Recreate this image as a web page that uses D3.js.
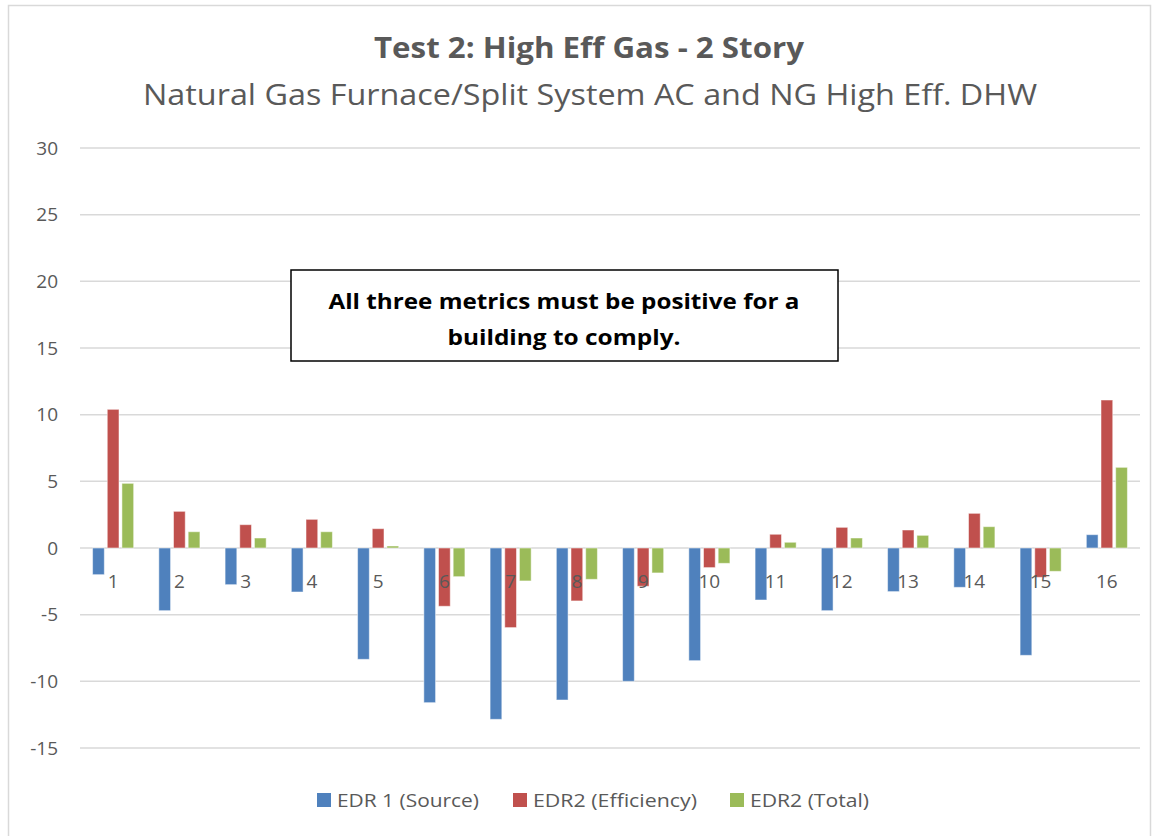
<!DOCTYPE html>
<html>
<head>
<meta charset="utf-8">
<style>
    body { margin: 0; background: #fff; }
    svg { display: block; font-family: "Open Sans", "Noto Sans", sans-serif; }
    .grid line { stroke: #d9d9d9; stroke-width: 1.5px; }
    .tick-label { fill: #595959; font-size: 19px; }
</style>
</head>
<body>
<svg width="1154" height="836"></svg>
<script src="https://d3js.org/d3.v7.min.js"></script>
<script>
    // chart values
    let categories = ["1","2","3","4","5","6","7","8","9","10","11","12","13","14","15","16"];
    let seriesNames = ["EDR 1 (Source)", "EDR2 (Efficiency)", "EDR2 (Total)"];
    let edr1Source = [-2.0, -4.7, -2.75, -3.3, -8.35, -11.6, -12.85, -11.4, -10.0, -8.45, -3.9, -4.7, -3.27, -2.95, -8.05, 1.0];
    let edr2Efficiency = [10.4, 2.75, 1.75, 2.15, 1.45, -4.37, -5.97, -3.97, -2.87, -1.47, 1.03, 1.55, 1.35, 2.6, -2.2, 11.1];
    let edr2Total = [4.85, 1.22, 0.75, 1.22, 0.15, -2.15, -2.47, -2.35, -1.87, -1.15, 0.43, 0.75, 0.95, 1.6, -1.75, 6.05];
    let yTicks = [-15, -10, -5, 0, 5, 10, 15, 20, 25, 30];
    let colors = ["#4f81bd", "#c0504d", "#9bbb59"];

    let seriesValues = [edr1Source, edr2Efficiency, edr2Total];
    let data = categories.map((c, i) => ({
        cat: c,
        vals: seriesNames.map((s, k) => ({ key: s, value: seriesValues[k][i] }))
    }));

    let svg = d3.select("svg");
    let margin = { top: 148, right: 14, bottom: 88, left: 80 };
    let width = 1154, height = 836;

    // outer chart border
    svg.append("rect")
        .attr("x", 8.5).attr("y", 5.5)
        .attr("width", width - 12).attr("height", height)
        .attr("fill", "none")
        .attr("stroke", "#d9d9d9")
        .attr("stroke-width", 1.5);

    let y = d3.scaleLinear()
        .domain([-15, 30])
        .range([height - margin.bottom, margin.top]);

    let x = d3.scaleBand()
        .domain(categories)
        .range([margin.left, width - margin.right])
        .paddingInner(0.38)
        .paddingOuter(0.19);

    let xs = d3.scaleBand()
        .domain(seriesNames)
        .range([0, x.bandwidth()])
        .paddingInner(0.2);

    // gridlines
    svg.append("g")
        .attr("class", "grid")
        .selectAll("line")
        .data(yTicks)
        .join("line")
        .attr("x1", margin.left)
        .attr("x2", width - margin.right)
        .attr("y1", d => y(d))
        .attr("y2", d => y(d));

    // y labels
    svg.append("g")
        .selectAll("text")
        .data(yTicks)
        .join("text")
        .attr("class", "tick-label")
        .attr("x", 58)
        .attr("y", d => y(d))
        .attr("dy", "0.35em")
        .attr("text-anchor", "end")
        .text(d => d);

    // bars
    svg.append("g")
        .selectAll("g")
        .data(data)
        .join("g")
        .attr("transform", d => `translate(${x(d.cat)},0)`)
        .selectAll("rect")
        .data(d => d.vals)
        .join("rect")
        .attr("x", d => xs(d.key))
        .attr("width", xs.bandwidth())
        .attr("y", d => y(Math.max(0, d.value)))
        .attr("height", d => Math.abs(y(d.value) - y(0)))
        .attr("fill", (d, i) => colors[i])
        .attr("stroke", "#fff")
        .attr("stroke-opacity", 0.5)
        .attr("stroke-width", 1);

    // category labels sit just under the zero line
    svg.append("g")
        .selectAll("text")
        .data(categories)
        .join("text")
        .attr("class", "tick-label")
        .attr("x", d => x(d) + x.bandwidth() / 2)
        .attr("y", y(0) + 40)
        .attr("text-anchor", "middle")
        .text(d => d);

    // fit text to a width measured on the picture
    function fit(sel, w) {
        sel.attr("textLength", w).attr("lengthAdjust", "spacingAndGlyphs");
    }

    // titles
    svg.append("text")
        .attr("x", 589).attr("y", 58)
        .attr("text-anchor", "middle")
        .style("font-size", "28px")
        .style("font-weight", "bold")
        .style("fill", "#595959")
        .text("Test 2: High Eff Gas - 2 Story")
        .call(fit, 430);

    svg.append("text")
        .attr("x", 590).attr("y", 105)
        .attr("text-anchor", "middle")
        .style("font-size", "29px")
        .style("fill", "#595959")
        .text("Natural Gas Furnace/Split System AC and NG High Eff. DHW")
        .call(fit, 894);

    // annotation box
    svg.append("rect")
        .attr("x", 291).attr("y", 270)
        .attr("width", 547).attr("height", 91)
        .attr("fill", "#fff")
        .attr("stroke", "#000")
        .attr("stroke-width", 1.5);

    let note = ["All three metrics must be positive for a", "building to comply."];
    let noteW = [471, 233];
    note.forEach((t, i) => {
        svg.append("text")
            .attr("x", 564).attr("y", 309 + i * 36)
            .attr("text-anchor", "middle")
            .style("font-size", "22px")
            .style("font-weight", "bold")
            .style("fill", "#000")
            .text(t)
            .call(fit, noteW[i]);
    });

    // legend
    let legendX = [317, 513, 730];
    let legendW = [142, 164, 119];
    let legend = svg.append("g")
        .selectAll("g")
        .data(seriesNames)
        .join("g")
        .attr("transform", (d, i) => `translate(${legendX[i]},800)`);

    legend.append("rect")
        .attr("x", 0).attr("y", -7)
        .attr("width", 14).attr("height", 14)
        .attr("fill", d => colors[seriesNames.indexOf(d)]);

    legend.append("text")
        .attr("class", "tick-label")
        .attr("x", 20).attr("y", 0)
        .attr("dy", "0.35em")
        .text(d => d)
        .each(function (d) { d3.select(this).call(fit, legendW[seriesNames.indexOf(d)]); });
</script>
</body>
</html>
